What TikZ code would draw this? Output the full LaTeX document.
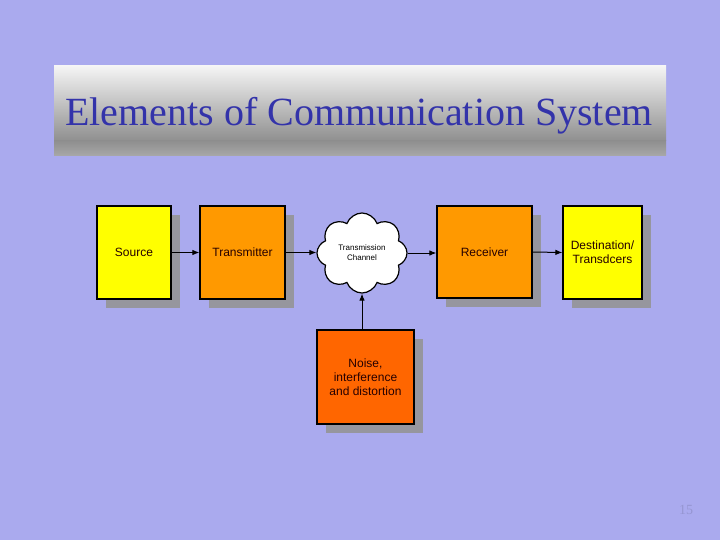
\documentclass[tikz,border=0pt]{standalone}
\usepackage{fontspec}
\setmainfont{Liberation Serif}
\newfontfamily\arialf{Liberation Sans}
\usetikzlibrary{shapes.symbols,shadows,arrows.meta}
\definecolor{bgc}{RGB}{170,170,238}
\definecolor{titlec}{RGB}{51,51,170}
\definecolor{shadowc}{RGB}{150,150,158}
\definecolor{yel}{RGB}{255,255,0}
\definecolor{orng}{RGB}{255,153,0}
\definecolor{rorng}{RGB}{255,102,0}
\definecolor{pagec}{RGB}{150,150,210}
\tikzset{
  blk/.style={draw=black, line width=1.2pt, inner sep=0pt, align=center,
    font=\arialf\fontsize{12}{14}\selectfont, text=black!85!red,
    drop shadow={shadow xshift=9pt, shadow yshift=-9pt, fill=shadowc, opacity=1}},
  conn/.style={line width=1pt, -{Latex[length=7pt,width=5.5pt]}},
}
\begin{document}
\begin{tikzpicture}[x=1pt,y=-1pt]
\fill[bgc] (0,0) rectangle (720,540);
\useasboundingbox (0,0) rectangle (720,540);
% title banner
\shade[top color=gray!8, bottom color=gray!88] (54,66) rectangle (666,141);
\shade[top color=gray!88, bottom color=gray!68] (54,141) rectangle (666,156);
\node[font=\fontsize{40}{44}\selectfont, text=titlec] (title) at (359,116) {Elements of Communication System};
% blocks
\node[blk, fill=yel, minimum width=74pt, minimum height=93pt] (src) at (134,252.5) {Source};
\node[blk, fill=orng, minimum width=85pt, minimum height=93pt] (tx) at (242.5,252.5) {Transmitter};
\node[draw=black, line width=1.2pt, fill=white, cloud, cloud puffs=8, cloud puff arc=140,
  shape border rotate=22.5,
  minimum width=90pt, minimum height=80pt, inner sep=0pt, align=center,
  font=\arialf\fontsize{8}{10}\selectfont] (ch) at (362,253) {Transmission\\Channel};
\node[blk, fill=orng, minimum width=95pt, minimum height=92pt] (rx) at (484.5,252) {Receiver};
\node[blk, fill=yel, minimum width=79pt, minimum height=93pt] (dst) at (602.5,252.5) {Destination/\\Transdcers};
\node[blk, fill=rorng, minimum width=97pt, minimum height=94pt] (noise) at (365.5,377) {Noise,\\interference\\and distortion};
% connectors
\draw[conn] (src.east) -- (tx.west);
\draw[conn] (tx.east) -- (tx.east -| ch.west);
\draw[conn] (ch.east) -- (rx.west |- ch.east);
\draw[conn] (rx.east) -- (dst.west);
\draw[conn] (noise.north -| ch.south) -- (ch.south);
% page number
\node[font=\fontsize{14}{16}\selectfont, text=pagec] (pg) at (686,510) {15};
\end{tikzpicture}
\end{document}
